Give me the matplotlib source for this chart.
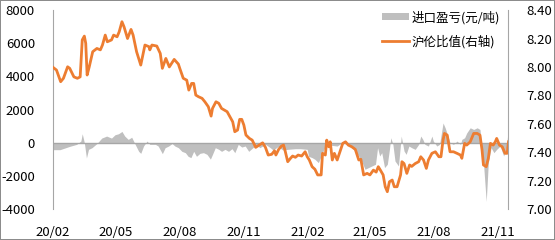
import pandas as pd
import matplotlib.pyplot as plt
import matplotlib.dates as mdates
from matplotlib.patches import Patch
from matplotlib.lines import Line2D

plt.rcParams['font.family'] = ['Noto Sans CJK SC', 'DejaVu Sans']
plt.rcParams['axes.unicode_minus'] = False

# day offsets are counted from this date
start = pd.Timestamp('2020-02-01')

# 沪伦比值 (right axis)
ratio_day = [0, 5, 11, 15, 21, 24, 30, 35, 39, 42, 45, 47, 49, 52, 57, 63, 68, 71, 75, 78,
             84, 87, 92, 95, 99, 102, 107, 112, 115, 120, 126, 132, 138, 139, 142, 149, 154, 157, 162, 167,
             174, 180, 182, 187, 192, 195, 199, 202, 205, 209, 214, 218, 223, 227, 229, 234, 238, 242, 250, 254,
             258, 261, 265, 268, 271, 274, 277, 282, 286, 291, 296, 301, 305, 309, 314, 318, 320, 324, 328, 331,
             333, 337, 341, 344, 348, 352, 357, 362, 365, 368, 372, 376, 380, 385, 387, 391, 393, 396, 398, 401,
             404, 408, 412, 416, 420, 424, 429, 434, 439, 442, 446, 451, 455, 460, 464, 467, 470, 474, 477, 480,
             483, 487, 490, 494, 499, 501, 504, 508, 512, 515, 520, 525, 528, 532, 536, 539, 544, 549, 554, 557,
             560, 562, 566, 568, 570, 575, 580, 585, 587, 591, 594, 599, 604, 609, 613, 616, 618, 622, 625, 628,
             632, 635, 637, 641, 645, 649, 652, 654]
ratio = [7.997, 7.978, 7.896, 7.920, 8.001, 7.990, 7.930, 7.920, 7.930, 8.190, 8.217, 8.166, 7.943, 8.000, 8.107, 8.130, 8.120, 8.154, 8.224, 8.177,
         8.190, 8.224, 8.212, 8.247, 8.318, 8.282, 8.200, 8.264, 8.224, 8.107, 8.013, 8.154, 8.142, 8.120, 8.154, 8.147, 8.095, 7.990, 8.060, 8.000,
         8.053, 8.020, 7.990, 7.920, 7.907, 7.837, 7.884, 7.884, 7.802, 7.790, 7.779, 7.755, 7.720, 7.654, 7.708, 7.755, 7.744, 7.708, 7.685, 7.650,
         7.614, 7.544, 7.556, 7.631, 7.631, 7.591, 7.521, 7.497, 7.485, 7.434, 7.450, 7.466, 7.434, 7.380, 7.385, 7.410, 7.380, 7.420, 7.443, 7.450,
         7.415, 7.333, 7.357, 7.373, 7.364, 7.380, 7.373, 7.403, 7.368, 7.345, 7.298, 7.280, 7.240, 7.240, 7.392, 7.380, 7.485, 7.438, 7.473, 7.345,
         7.392, 7.345, 7.403, 7.462, 7.473, 7.450, 7.438, 7.420, 7.345, 7.350, 7.240, 7.251, 7.240, 7.274, 7.260, 7.298, 7.274, 7.240, 7.157, 7.122,
         7.192, 7.204, 7.157, 7.157, 7.240, 7.333, 7.320, 7.251, 7.310, 7.300, 7.320, 7.333, 7.368, 7.345, 7.286, 7.345, 7.392, 7.403, 7.368, 7.368,
         7.485, 7.532, 7.520, 7.462, 7.403, 7.403, 7.392, 7.380, 7.357, 7.462, 7.450, 7.473, 7.532, 7.532, 7.520, 7.415, 7.310, 7.298, 7.357, 7.462,
         7.450, 7.473, 7.497, 7.450, 7.438, 7.392, 7.392, 7.473]

# 进口盈亏 (元/吨, left axis)
pl_day = [0, 10, 24, 34, 40, 42, 45, 48, 51, 56, 63, 70, 77, 84, 89, 94, 99, 103, 108, 113,
          118, 123, 126, 130, 135, 139, 147, 151, 157, 161, 166, 171, 175, 180, 185, 190, 194, 198, 202, 206,
          211, 216, 221, 226, 229, 233, 238, 242, 247, 252, 257, 261, 266, 271, 276, 281, 288, 293, 297, 305,
          312, 316, 323, 330, 337, 348, 355, 365, 367, 372, 376, 381, 385, 388, 392, 396, 400, 408, 415, 422,
          429, 434, 439, 444, 448, 453, 458, 463, 466, 469, 472, 476, 480, 483, 485, 488, 491, 496, 500, 504,
          507, 511, 515, 520, 525, 528, 531, 534, 539, 544, 546, 551, 555, 560, 563, 567, 570, 575, 580, 585,
          587, 591, 594, 599, 604, 609, 613, 615, 618, 622, 625, 629, 633, 637, 642, 647, 651, 654]
pl = [-420, -420, -220, -100, 100, 540, 0, -920, -400, -300, -50, 280, 400, 280, 480, 540, 680, 400, 200, 330,
      -100, -520, -640, -200, 100, -100, -100, -200, -660, -300, -200, -50, -200, -300, -520, -600, -820, -900, -520, -820,
      -640, -600, -700, -990, -700, -300, -400, -520, -400, -520, -360, -600, -100, -260, -200, -520, -260, -160, -300, -100,
      -300, -440, -240, -440, -400, -360, -360, -400, -820, -900, -1000, -1200, -800, -500, -100, -200, -160, -200, 0, -100,
      -300, -500, -800, -1200, -1600, -1500, -1400, -1300, -300, -800, -600, -1500, -1300, -400, 300, -100, -1100, -1400, 400, -500,
      -700, -200, -300, -400, -100, 400, 200, -100, -200, 400, 100, -200, -100, 1190, 900, 400, 0, -100, 100, -100,
      200, 300, 590, 900, 800, 900, 800, 0, -1200, -3540, -1200, -300, -600, -400, -200, -800, -300, 1000]

ratio_dates = start + pd.to_timedelta(ratio_day, unit='D')
pl_dates = start + pd.to_timedelta(pl_day, unit='D')

gray = '#BFBFBF'
orange = '#ED7D31'
axis_gray = '#A6A6A6'

fig = plt.figure(figsize=(5.55, 2.4), dpi=100, linewidth=1.2, edgecolor='#8C8C8C')
ax = fig.add_axes([0.0955, 0.129, 0.8195, 0.829])
ax2 = ax.twinx()

ax.fill_between(pl_dates, pl, 0, color=gray, linewidth=0)
ax.axhline(0, color=axis_gray, linewidth=1)
ax.set_ylim(-4000, 8000)
ax.set_yticks(range(-4000, 8001, 2000))

ax2.plot(ratio_dates, ratio, color=orange, linewidth=2.0)
ax2.set_ylim(7.0, 8.4)
ax2.set_yticks([7.0, 7.2, 7.4, 7.6, 7.8, 8.0, 8.2, 8.4])
ax2.set_yticklabels(['%.2f' % v for v in ax2.get_yticks()])

ax.set_xlim(start, pd.Timestamp('2021-11-15'))
ticks = pd.to_datetime(['2020-02-01', '2020-05-01', '2020-08-01', '2020-11-01',
                        '2021-02-01', '2021-05-01', '2021-08-01', '2021-11-01'])
ax.set_xticks(ticks)
ax.xaxis.set_major_formatter(mdates.DateFormatter('%y/%m'))

for a in (ax, ax2):
    for s in ('top', 'bottom'):
        a.spines[s].set_visible(False)
    a.spines['left'].set_color(axis_gray)
    a.spines['right'].set_color(axis_gray)
    a.tick_params(length=0, labelsize=9.5, colors='black')
ax.spines['right'].set_visible(False)
ax2.spines['left'].set_visible(False)
ax.tick_params(axis='y', pad=13)
ax2.tick_params(axis='y', pad=13)
ax.tick_params(axis='x', pad=12)

handles = [Patch(facecolor=gray, edgecolor='none'),
           Line2D([], [], color=orange, linewidth=2.0)]
ax2.legend(handles, ['进口盈亏(元/吨)', '沪伦比值(右轴)'], loc='upper right',
           bbox_to_anchor=(1.0, 1.035), frameon=False, fontsize=9,
           handlelength=2.2, handleheight=0.45, handletextpad=0.2,
           labelspacing=0.85, borderaxespad=0.2)

fig.savefig('out.png', dpi=100)
